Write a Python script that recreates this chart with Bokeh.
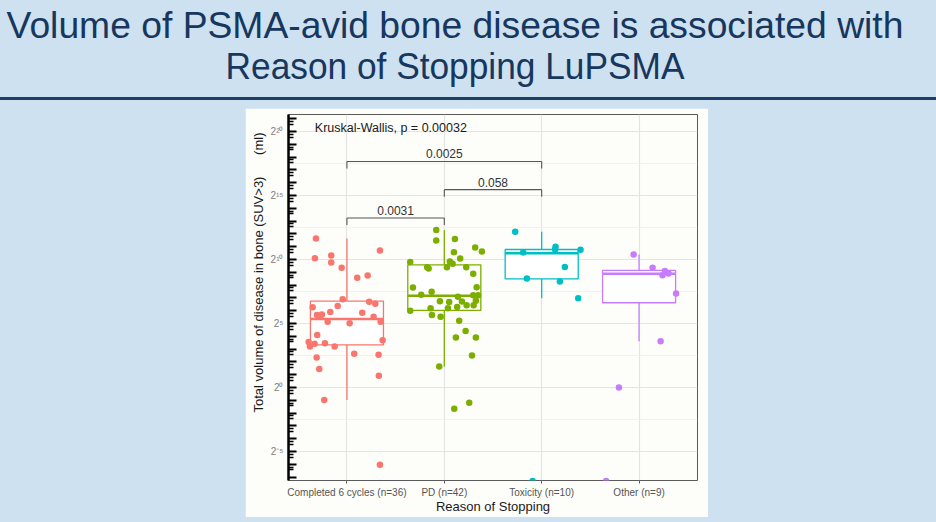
from bokeh.plotting import figure
from bokeh.models import (Range1d, FixedTicker, Title, Div, Spacer,
                          CustomJSTickFormatter, ColumnDataSource)
from bokeh.layouts import column, row
from bokeh.core.properties import value
from bokeh.embed import file_html
from bokeh.resources import INLINE

# ---------------- data (volumes as log2(ml)) ----------------
categories = ["Completed 6 cycles (n=36)", "PD (n=42)", "Toxicity (n=10)", "Other (n=9)"]
group_colors = ["#F8766D", "#7CAE00", "#00BFC4", "#C77CFF"]

box_q1 = [3.33, 6.03, 8.49, 6.62]
box_median = [5.35, 7.17, 10.49, 8.89]
box_q3 = [6.75, 9.58, 10.78, 9.15]
whisker_low = [-0.98, 1.64, 6.97, 3.62]
whisker_high = [11.63, 12.30, 12.17, 10.39]

completed_jitter = [-0.318, -0.329, -0.161, -0.161, -0.054, 0.339, 0.106, 0.213, -0.044, -0.352,
                    -0.095, 0.229, 0.291, -0.308, -0.277, -0.171, 0.157, 0.274, -0.198, 0.028,
                    0.346, -0.305, -0.393, -0.380, -0.332, -0.226, -0.126, 0.367, 0.075, 0.325,
                    -0.311, -0.284, 0.328, -0.233, 0.339, -0.257]
completed_log2 = [11.63, 10.10, 10.31, 9.77, 9.35, 10.70, 8.57, 8.75, 6.89, 6.26,
                  6.37, 6.70, 6.54, 5.67, 5.61, 5.90, 5.84, 5.53, 5.14, 5.02,
                  5.14, 4.11, 3.56, 3.20, 3.41, 3.46, 3.20, 3.70, 2.63, 2.55,
                  2.34, 1.44, 0.92, -0.98, -6.03, 5.70]

pd_jitter = [-0.083, -0.083, 0.109, 0.317, 0.386, 0.099, 0.163, -0.350, 0.057, 0.085,
             -0.176, -0.161, 0.027, 0.225, 0.297, -0.322, -0.130, 0.332, -0.237, 0.140,
             0.297, 0.348, -0.045, 0.050, 0.324, 0.301, 0.229, 0.132, 0.037, -0.141,
             -0.350, -0.127, -0.038, 0.153, 0.219, 0.119, 0.324, 0.284, -0.052, 0.256,
             0.102, 0.181]
pd_log2 = [12.30, 11.48, 11.60, 10.93, 10.62, 10.57, 10.08, 9.81, 9.84, 9.66,
           9.40, 9.30, 9.40, 9.40, 8.88, 7.82, 7.48, 7.84, 7.25, 7.09,
           7.20, 7.20, 6.73, 6.68, 6.78, 6.42, 6.42, 6.29, 6.19, 6.19,
           6.00, 5.67, 5.53, 5.22, 4.42, 3.90, 3.90, 2.50, 1.64, -1.18,
           -1.65, 6.72]

toxicity_jitter = [-0.272, 0.142, 0.138, 0.399, -0.190, 0.238, -0.152, 0.187, 0.375, -0.093]
toxicity_log2 = [12.17, 11.00, 10.77, 10.75, 10.54, 9.41, 8.51, 8.27, 6.97, -7.30]

other_jitter = [-0.056, 0.139, 0.265, 0.303, 0.241, 0.380, 0.221, -0.207, -0.338]
other_log2 = [10.39, 9.35, 9.09, 8.91, 8.76, 7.34, 3.62, 0.01, -7.30]

compare_from = [1, 2, 1]
compare_to = [2, 3, 3]
compare_p = ["0.0031", "0.058", "0.0025"]
bracket_log2 = [13.24, 15.45, 17.65]
bracket_tip = 0.55

kw_text = "Kruskal-Wallis, p = 0.00032"
kw_x, kw_log2 = 0.67, 20.25

title_lines = ["Volume of PSMA-avid bone disease is associated with",
               "Reason of Stopping LuPSMA"]
y_title = "Total volume of disease in bone (SUV>3)"
y_unit = "(ml)"
x_title = "Reason of Stopping"

FONT = "Liberation Sans"
SLIDE_BG = "#cde1f0"
CARD_BG = "#fdfdfa"

# ---------------- chart figure (the white card) ----------------
p = figure(width=463, height=409, title=None,
           x_range=Range1d(0.4, 4.6), y_range=Range1d(2 ** -7.26, 2 ** 21.32),
           y_axis_type="log", output_backend="svg", toolbar_location=None,
           min_border_left=43, min_border_right=11, min_border_top=6, min_border_bottom=37)
p.border_fill_color = CARD_BG
p.background_fill_color = CARD_BG
p.outline_line_color = "#5a5a5a"
p.outline_line_width = 1

# grids
major_exp = [-5, 0, 5, 10, 15, 20]
p.ygrid.ticker = FixedTicker(ticks=[2.0 ** e for e in major_exp],
                             minor_ticks=[2.0 ** (e + 2.5) for e in [-10] + major_exp])
p.ygrid.grid_line_color = "#e4e4e4"
p.ygrid.grid_line_width = 1.2
p.ygrid.minor_grid_line_color = "#efefef"
p.ygrid.minor_grid_line_width = 0.8
p.xgrid.ticker = FixedTicker(ticks=[1, 2, 3, 4])
p.xgrid.grid_line_color = "#e4e4e4"
p.xgrid.grid_line_width = 1.2

# y axis
ya = p.yaxis[0]
ya.ticker = FixedTicker(ticks=[2.0 ** k for k in range(-7, 22)],
                        minor_ticks=[2.0 ** (k - d) for k in range(-6, 22) for d in (0.22, 0.44)])
ya.formatter = CustomJSTickFormatter(code="""
const e = Math.log2(tick);
const r = Math.round(e);
if (Math.abs(e - r) > 1e-6 || r % 5 != 0) return "";
const sup = {"0":"\u2070","1":"\u00b9","2":"\u00b2","3":"\u00b3","4":"\u2074","5":"\u2075",
             "6":"\u2076","7":"\u2077","8":"\u2078","9":"\u2079","-":"\u207b"};
return "2" + String(r).split("").map(c => sup[c]).join("");
""")
ya.axis_line_color = "black"
ya.axis_line_width = 2.5
ya.major_tick_in = 8
ya.major_tick_out = 0
ya.minor_tick_in = 5
ya.minor_tick_out = 0
ya.major_tick_line_color = "black"
ya.major_tick_line_width = 2
ya.minor_tick_line_color = "black"
ya.minor_tick_line_width = 1.5
ya.major_label_standoff = 5
ya.major_label_text_font = FONT
ya.major_label_text_font_size = "10px"
ya.major_label_text_color = "#808080"

# y title (with unit), a left-side title anchored at the bottom and shifted up
p.add_layout(Title(text=y_title + "\u00a0" * 6 + y_unit, align="left", offset=68, standoff=3,
                   text_font=FONT, text_font_size="13px", text_font_style="normal",
                   text_color="#1a1a1a"), "left")

# x axis
xa = p.xaxis[0]
xa.ticker = FixedTicker(ticks=[1, 2, 3, 4])
xa.major_label_overrides = {i + 1: c for i, c in enumerate(categories)}
xa.axis_line_color = None
xa.major_tick_in = 0
xa.major_tick_out = 3
xa.major_tick_line_color = "#5a5a5a"
xa.minor_tick_line_color = None
xa.major_label_standoff = 3
xa.major_label_text_font = FONT
xa.major_label_text_font_size = "10px"
xa.major_label_text_color = "#555555"
xa.axis_label = x_title
xa.axis_label_text_font = FONT
xa.axis_label_text_font_size = "13px"
xa.axis_label_text_font_style = "normal"
xa.axis_label_text_color = "#1a1a1a"
xa.axis_label_standoff = -2

# boxes
xs = [1, 2, 3, 4]
half = 0.375
box_src = ColumnDataSource(dict(
    x=xs, x0=[x - half for x in xs], x1=[x + half for x in xs],
    q1=[2 ** v for v in box_q1], med=[2 ** v for v in box_median], q3=[2 ** v for v in box_q3],
    lo=[2 ** v for v in whisker_low], hi=[2 ** v for v in whisker_high], color=group_colors))
p.segment(x0="x", x1="x", y0="q3", y1="hi", line_color="color", line_width=1.3, source=box_src)
p.segment(x0="x", x1="x", y0="q1", y1="lo", line_color="color", line_width=1.3, source=box_src)
p.vbar(x="x", width=0.75, bottom="q1", top="q3", fill_color="white", line_color="color",
       line_width=1.3, source=box_src)
p.segment(x0="x0", x1="x1", y0="med", y1="med", line_color="color", line_width=2.6, source=box_src)

# jittered points
groups = [(completed_jitter, completed_log2), (pd_jitter, pd_log2),
          (toxicity_jitter, toxicity_log2), (other_jitter, other_log2)]
for i, (jit, vals) in enumerate(groups):
    p.scatter(x=[i + 1 + d for d in jit], y=[2 ** v for v in vals], size=6.5,
              fill_color=group_colors[i], line_color=None)

# pairwise comparison brackets
bsrc = ColumnDataSource(dict(
    xa=compare_from, xb=compare_to, y=[2 ** v for v in bracket_log2],
    yt=[2 ** (v - bracket_tip) for v in bracket_log2],
    xm=[(a + b) / 2 for a, b in zip(compare_from, compare_to)], lab=compare_p))
p.segment(x0="xa", x1="xb", y0="y", y1="y", line_color="#555555", line_width=1.1, source=bsrc)
p.segment(x0="xa", x1="xa", y0="y", y1="yt", line_color="#555555", line_width=1.1, source=bsrc)
p.segment(x0="xb", x1="xb", y0="y", y1="yt", line_color="#555555", line_width=1.1, source=bsrc)
p.text(x="xm", y="y", text="lab", source=bsrc, y_offset=-3, text_align="center",
       text_baseline="bottom", text_font=value(FONT), text_font_size="12px", text_color="#333333")

p.text(x=[kw_x], y=[2 ** kw_log2], text=[kw_text], text_align="left", text_baseline="middle",
       text_font=value(FONT), text_font_size="12.5px", text_color="#1a1a1a")

# ---------------- slide heading ----------------
line_style = ("position:absolute;left:0;width:910px;text-align:center;"
              "font-family:'Liberation Sans',Arial,sans-serif;font-size:36px;line-height:41px;"
              "color:#17375e;white-space:nowrap;")
head_html = (
    '<div style="position:relative;width:936px;height:108px;">'
    '<div style="' + line_style + 'top:5px;transform:scaleX(1.035);">' + title_lines[0] + '</div>'
    '<div style="' + line_style + 'top:46px;transform:scaleX(0.98);">' + title_lines[1] + '</div>'
    '<div style="position:absolute;top:97px;left:0;width:936px;height:3px;background:#1d3f66;"></div>'
    '</div>')
head = Div(text=head_html, width=936, height=108, margin=0,
           styles={"background-color": SLIDE_BG})

body = row(Spacer(width=245, height=409, margin=0), p, Spacer(width=228, height=409, margin=0),
           width=936, height=409, styles={"background-color": SLIDE_BG})
foot = Spacer(width=936, height=5, margin=0, styles={"background-color": SLIDE_BG})
page = column(head, body, foot, width=936, height=522, styles={"background-color": SLIDE_BG})

open("out.html", "w").write(file_html(page, INLINE))
